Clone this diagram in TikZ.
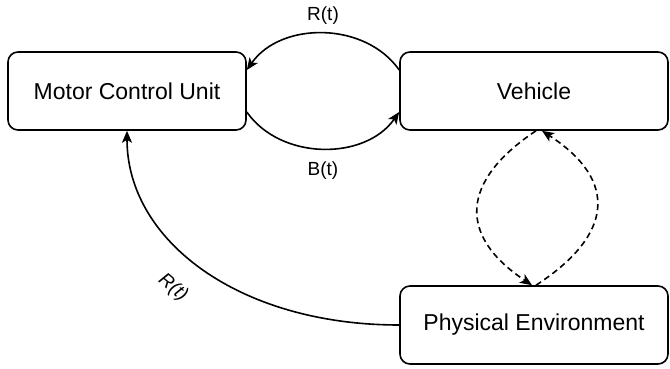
\documentclass[tikz,border=0pt]{standalone}
\usepackage{fontspec}
\setmainfont{Liberation Sans}
\usetikzlibrary{arrows.meta}

\tikzset{
  block/.style={draw, line width=1.6pt, rounded corners=10pt, minimum height=78pt,
    font=\fontsize{23}{27}\selectfont},
  link/.style={line width=1.6pt, -{Stealth[length=12pt,width=10pt,inset=3pt]}},
  lbl/.style={font=\fontsize{19}{23}\selectfont}
}

\begin{document}
\begin{tikzpicture}[x=1pt, y=-1pt]
  \useasboundingbox (0,0) rectangle (670,369);

  % Blocks
  \node[block, minimum width=238pt] (mcu) at (127,91) {Motor Control Unit};
  \node[block, minimum width=268pt] (veh) at (534,91) {Vehicle};
  \node[block, minimum width=268pt] (env) at (534,325) {Physical Environment};

  % Signals between MCU and vehicle
  \draw[link] ([yshift=21pt]veh.west) to[bend right=55]
    node[lbl, above=5pt] (rt) {R(t)} ([yshift=21pt]mcu.east);
  \draw[link] ([yshift=-21pt]mcu.east) to[bend right=55]
    node[lbl, below=9pt] (bt) {B(t)} ([yshift=-21pt]veh.west);

  % Vehicle <-> environment
  \draw[link, dashed, dash pattern=on 6pt off 4pt] ([xshift=2pt]veh.south)
    .. controls +(-75,50) and +(-75,-50) .. ([xshift=-2pt]env.north);
  \draw[link, dashed, dash pattern=on 6pt off 4pt] ([xshift=2pt]env.north)
    .. controls +(77,-50) and +(77,50) .. ([xshift=8pt]veh.south);

  % Feedback to MCU
  \draw[link] (env.west) .. controls +(-160,0) and +(0,110) .. (mcu.south);
  \node[lbl, rotate=-40] (rfb) at (173,288) {\itshape R(t)};
\end{tikzpicture}
\end{document}
